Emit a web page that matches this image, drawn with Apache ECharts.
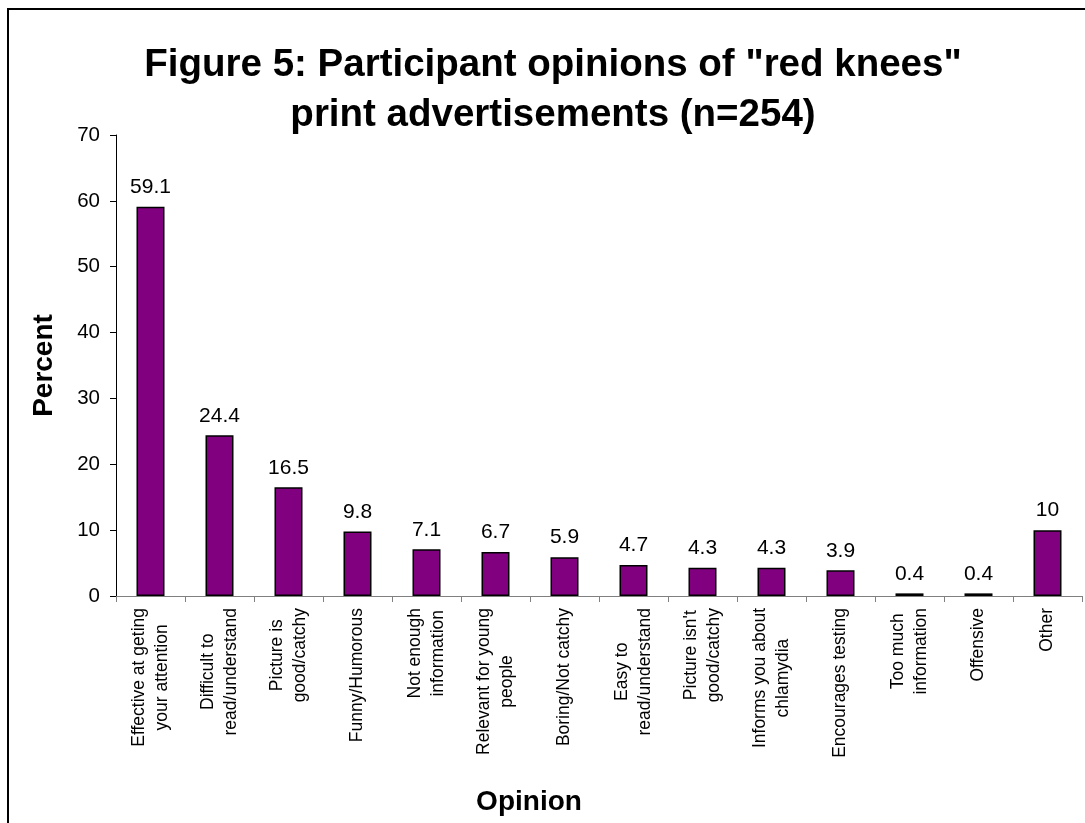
<!DOCTYPE html>
<html>
<head>
<meta charset="utf-8">
<script src="https://cdn.jsdelivr.net/npm/echarts@6/dist/echarts.min.js"></script>
<style>
  html, body { margin: 0; padding: 0; background: #fff; }
</style>
</head>
<body>
<div id="chart" style="width: 1085px;height: 823px"></div>
<script>
const categories = [
  'Effective at geting\nyour attention',
  'Difficult to\nread/understand',
  'Picture is\ngood/catchy',
  'Funny/Humorous',
  'Not enough\ninformation',
  'Relevant for young\npeople',
  'Boring/Not catchy',
  'Easy to\nread/understand',
  "Picture isn't\ngood/catchy",
  'Informs you about\nchlamydia',
  'Encourages testing',
  'Too much\ninformation',
  'Offensive',
  'Other'
]
const percents = [59.1, 24.4, 16.5, 9.8, 7.1, 6.7, 5.9, 4.7, 4.3, 4.3, 3.9, 0.4, 0.4, 10]
const yTicks = [0, 10, 20, 30, 40, 50, 60, 70]

const font = "'Liberation Sans', Arial, sans-serif"
const chartDom = document.getElementById('chart')
const myChart = echarts.init(chartDom)

const option = {
  animation: false,
  textStyle: {fontFamily: font},
  title: {
    text: 'Figure 5: Participant opinions of "red knees"\nprint advertisements (n=254)',
    left: 553,
    top: 40,
    padding: 0,
    textAlign: 'center',
    textStyle: {
      fontFamily: font,
      fontSize: 38.5,
      fontWeight: 'bold',
      lineHeight: 50,
      color: '#000'
    }
  },
  // outer frame of the original figure (cut off at right and bottom)
  graphic: [
    {
      type: 'rect',
      shape: {x: 8, y: 9, width: 2000, height: 2000},
      style: {fill: 'none', stroke: '#000', lineWidth: 2},
      silent: true
    }
  ],
  grid: {
    left: 116,
    right: 3,
    top: 135,
    bottom: 227,
    containLabel: false
  },
  xAxis: {
    type: 'category',
    data: categories,
    name: 'Opinion',
    nameLocation: 'middle',
    nameGap: 192,
    nameTextStyle: {
      fontFamily: font,
      fontSize: 28,
      fontWeight: 'bold',
      color: '#000',
      padding: [0, 140, 0, 0]
    },
    axisLine: {lineStyle: {color: '#808080', width: 1}},
    axisTick: {show: true, length: 6, lineStyle: {color: '#808080'}},
    axisLabel: {
      interval: 0,
      rotate: 90,
      margin: 12,
      color: '#000',
      fontFamily: font,
      fontSize: 17.5,
      lineHeight: 23,
      formatter: v => v.split('\n').map(s => '{c|' + s + '}').join('\n'),
      rich: {
        c: {align: 'center', fontFamily: font, fontSize: 17.5, lineHeight: 23, color: '#000'}
      }
    }
  },
  yAxis: {
    type: 'value',
    min: yTicks[0],
    max: yTicks[yTicks.length - 1],
    interval: 10,
    name: 'Percent',
    nameLocation: 'middle',
    nameGap: 58,
    nameTextStyle: {
      fontFamily: font,
      fontSize: 28,
      fontWeight: 'bold',
      color: '#000'
    },
    axisLine: {show: true, lineStyle: {color: '#000', width: 1}},
    axisTick: {show: true, length: 6, lineStyle: {color: '#000'}},
    splitLine: {show: false},
    axisLabel: {
      margin: 16,
      color: '#000',
      fontFamily: font,
      fontSize: 20.5
    }
  },
  series: [
    {
      name: 'Percent',
      type: 'bar',
      data: percents,
      barWidth: 28,
      itemStyle: {
        color: '#800080',
        borderColor: '#000',
        borderWidth: 1.5
      },
      label: {
        show: true,
        position: 'top',
        distance: 9,
        color: '#000',
        fontFamily: font,
        fontSize: 21
      }
    }
  ]
}

option && myChart.setOption(option)
</script>
</body>
</html>
